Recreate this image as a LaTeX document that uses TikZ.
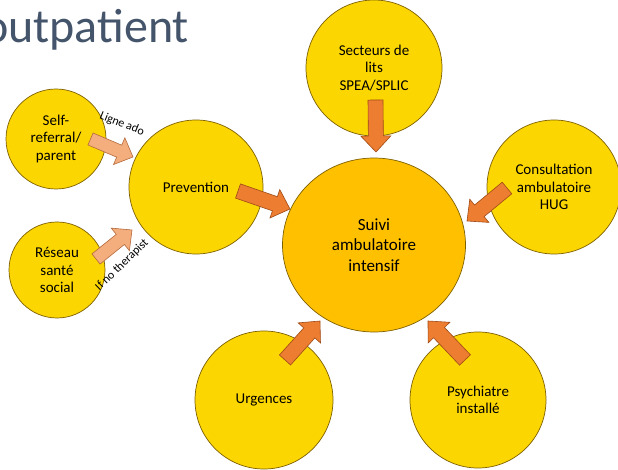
\documentclass[tikz,border=0pt]{standalone}
\usepackage{fontspec}
\setmainfont{Carlito}
\usetikzlibrary{calc,shapes.geometric}
\definecolor{circY}{HTML}{FCD600}
\definecolor{circO}{HTML}{FFC000}
\definecolor{circLine}{HTML}{7F6000}
\definecolor{arrDark}{HTML}{ED7D31}
\definecolor{arrDarkLine}{HTML}{9E4A16}
\definecolor{arrLight}{HTML}{F4AE7E}
\definecolor{arrLightLine}{HTML}{B5693A}
\definecolor{titleC}{HTML}{44546A}
\newcommand\blockarrow[6]{%
  \coordinate (bh) at ($(#3)!#6!(#2)$);
  \path[#1] ($(#2)!#4!90:(#3)$) -- ($(bh)!#4!90:(#3)$) -- ($(bh)!#5!90:(#3)$) -- (#3)
    -- ($(bh)!#5!-90:(#3)$) -- ($(bh)!#4!-90:(#3)$) -- ($(#2)!#4!-90:(#3)$) -- cycle;}
\tikzset{
  bubble/.style={circle, draw=circLine, line width=0.7pt, fill=circY, inner sep=0pt,
    align=center, font=\fontsize{15}{17.5}\selectfont, text=black},
  darkarrow/.style={fill=arrDark, draw=arrDarkLine, line width=0.6pt, line join=miter},
  lightarrow/.style={fill=arrLight, draw=arrLightLine, line width=0.6pt, line join=miter},
  smalllabel/.style={font=\fontsize{12}{14}\selectfont, inner sep=0pt}
}
\begin{document}
\begin{tikzpicture}[x=1pt,y=-1pt]
\useasboundingbox (0,0) rectangle (618,470);
\clip (0,0) rectangle (618,470);
\fill[white] (0,0) rectangle (618,470);
% title
\node[anchor=base west, inner sep=0pt, text=titleC, font=\fontsize{48}{50}\selectfont] (title) at (-17,43) {outpatient};
% circles
\node[bubble, minimum size=100pt] (self) at (56,139) {Self-\\referral/\\parent};
\node[bubble, minimum size=96pt] (reseau) at (57,270) {Réseau\\santé\\social};
\node[bubble, minimum size=134pt] (prev) at (196,187) {Prevention};
\node[bubble, minimum size=136pt] (secteurs) at (374,68) {Secteurs de\\lits\\SPEA/SPLIC};
\node[bubble, minimum size=134pt] (consult) at (554,187) {Consultation\\ambulatoire\\HUG};
\node[bubble, minimum size=138pt] (urg) at (264,400) {Urgences};
\node[bubble, minimum size=136pt] (psy) at (478,400) {Psychiatre\\installé};
\node[ellipse, draw=circLine, line width=0.7pt, fill=circO, inner sep=0pt, minimum width=183pt,
  minimum height=174pt, align=center, font=\fontsize{17}{20.5}\selectfont] (suivi) at (374,245)
  {Suivi\\ambulatoire\\intensif};
% arrow end points
\coordinate (a1s) at (90.5,139); \coordinate (a1t) at (133,157);
\coordinate (a2s) at (96,259);   \coordinate (a2t) at (132,230);
\coordinate (a3s) at (238,191);  \coordinate (a3t) at (290,209);
\coordinate (a4s) at (375.5,100); \coordinate (a4t) at (376,152);
\coordinate (a5s) at (507,188);  \coordinate (a5t) at (467,221);
\coordinate (a6s) at (285,360);  \coordinate (a6t) at (320,321);
\coordinate (a7s) at (465,360);  \coordinate (a7t) at (428,321);
% arrows
\blockarrow{lightarrow}{a1s}{a1t}{6.5pt}{14.5pt}{15pt}
\blockarrow{lightarrow}{a2s}{a2t}{6.5pt}{14.5pt}{15pt}
\blockarrow{darkarrow}{a3s}{a3t}{7.5pt}{15pt}{16pt}
\blockarrow{darkarrow}{a4s}{a4t}{7.5pt}{15pt}{16pt}
\blockarrow{darkarrow}{a5s}{a5t}{7.5pt}{15pt}{16pt}
\blockarrow{darkarrow}{a6s}{a6t}{7.5pt}{15pt}{16pt}
\blockarrow{darkarrow}{a7s}{a7t}{7.5pt}{15pt}{16pt}
% labels
\node[smalllabel, rotate=-22] (ligne) at (122,124) {Ligne ado};
\node[smalllabel, rotate=44] (ifno) at (122,265) {If no therapist};
\end{tikzpicture}
\end{document}
